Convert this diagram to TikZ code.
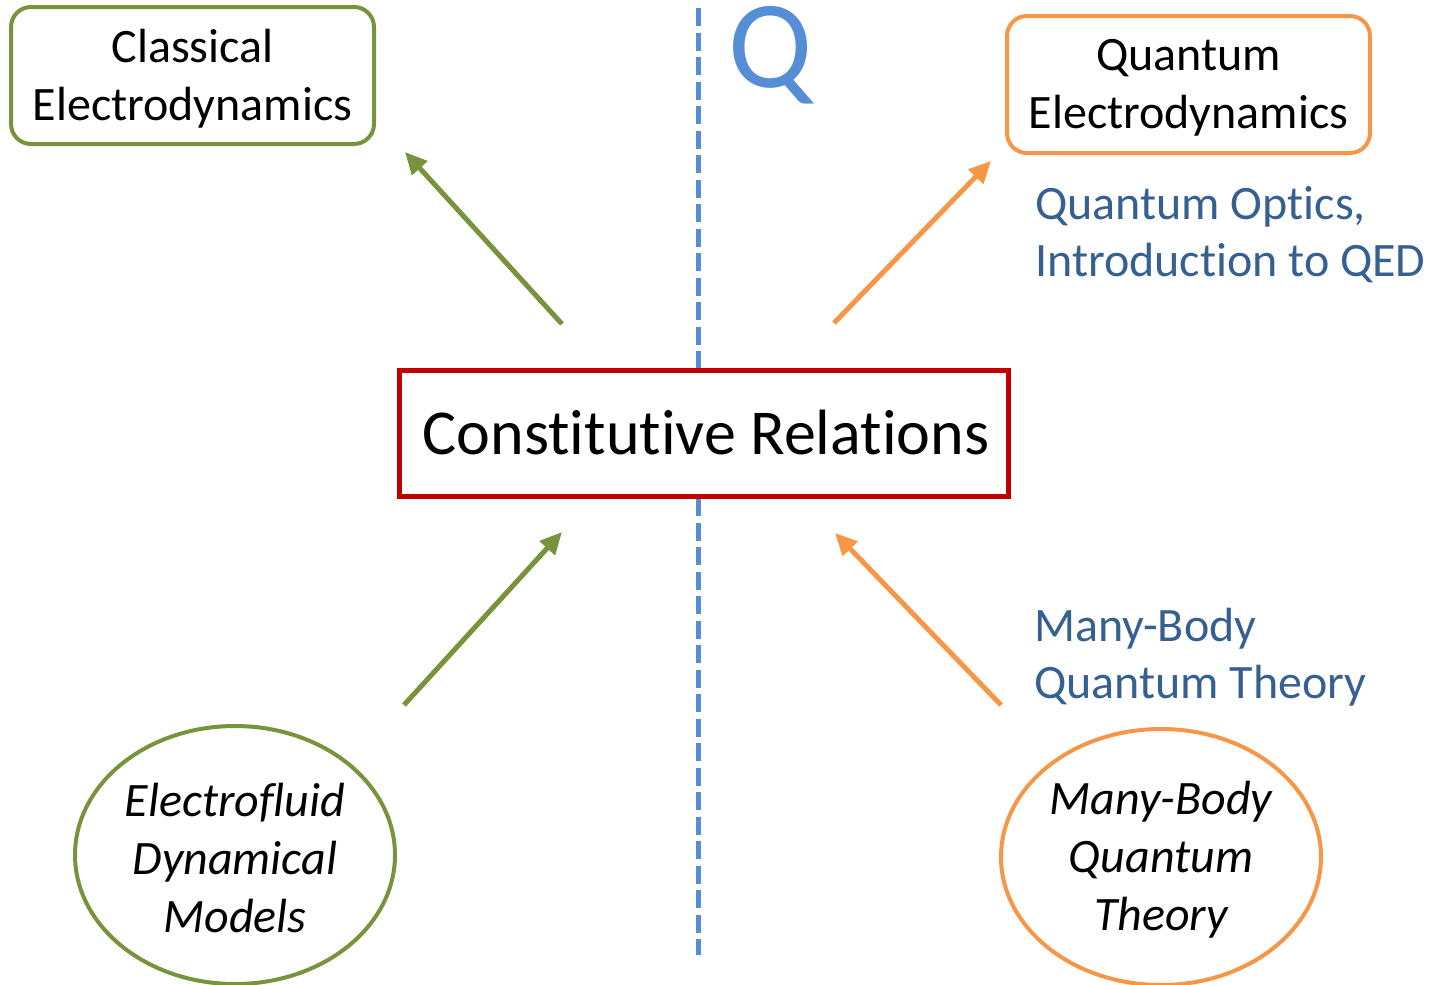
\documentclass[tikz,border=0pt]{standalone}
\usepackage{fontspec}
\setmainfont{Carlito}[RawFeature=-liga]
\usetikzlibrary{arrows.meta,shapes.geometric}
\definecolor{cgreen}{HTML}{77933C}
\definecolor{corange}{HTML}{F79646}
\definecolor{cred}{HTML}{C00000}
\definecolor{cblue}{HTML}{558ED5}
\definecolor{cdblue}{HTML}{376092}
\tikzset{
  rbox/.style={draw, line width=4pt, rounded corners=20pt, inner sep=0pt},
  boxtext/.style={align=center, inner sep=0pt, yshift=-3pt, font=\fontsize{48}{58}\selectfont},
  oval/.style={draw, ellipse, line width=4pt, inner sep=0pt},
  ovaltext/.style={align=center, inner sep=0pt, yshift=-3pt, font=\fontsize{48}{58}\selectfont\itshape},
  bluelabel/.style={text=cdblue, align=left, anchor=west, inner sep=0pt, font=\fontsize{48}{57}\selectfont},
  arr/.style={line width=5pt, -{Triangle[length=22pt,width=20pt]}},
}
\begin{document}
\begin{tikzpicture}[x=1pt,y=-1pt]
\useasboundingbox (0,0) rectangle (1435,985);
% dashed divider
\coordinate (dtop) at (698,8);
\coordinate (dbot) at (698,955);
\draw[cblue, line width=5pt, dash pattern=on 18pt off 6.5pt] (dtop) -- (dbot);
% Q
\node[text=cblue, inner sep=0pt, anchor=base, text height=78pt, text depth=12pt, font=\fontsize{125}{125}\selectfont] (q) at (771,87) {Q};
% boxes
\node[rbox, draw=cgreen, minimum width=363pt, minimum height=137pt,
      label={[boxtext]center:Classical\\Electrodynamics}] (ced) at (192.5,75.5) {};
\node[rbox, draw=corange, minimum width=363pt, minimum height=137pt,
      label={[boxtext]center:Quantum\\Electrodynamics}] (qed) at (1188.5,84.5) {};
\node[draw=cred, fill=white, line width=5pt, minimum width=609pt, minimum height=126pt, inner sep=0pt, font=\fontsize{64}{64}\selectfont] (cr) at (703.5,433) {\hspace*{5pt}Constitutive Relations};
% ellipses
\node[oval, draw=cgreen, minimum width=320pt, minimum height=258pt,
      label={[ovaltext]center:Electrofluid\\Dynamical\\Models}] (efd) at (235,855) {};
\node[oval, draw=corange, minimum width=320pt, minimum height=256pt,
      label={[ovaltext]center:Many-Body\\Quantum\\Theory}] (mbq) at (1161,857) {};
% labels
\node[bluelabel] (qo) at (1035,235) {Quantum Optics,\\Introduction to QED};
\node[bluelabel] (mb) at (1034,657) {Many-Body\\Quantum Theory};
% arrows
\coordinate (a1s) at (562,324); \coordinate (a1e) at (405,152);
\coordinate (a2s) at (834,323); \coordinate (a2e) at (991,161);
\coordinate (a3s) at (404,705); \coordinate (a3e) at (562,532);
\coordinate (a4s) at (1001,705); \coordinate (a4e) at (835,533);
\draw[arr, cgreen] (a1s) -- (a1e);
\draw[arr, corange] (a2s) -- (a2e);
\draw[arr, cgreen] (a3s) -- (a3e);
\draw[arr, corange] (a4s) -- (a4e);
\end{tikzpicture}
\end{document}
